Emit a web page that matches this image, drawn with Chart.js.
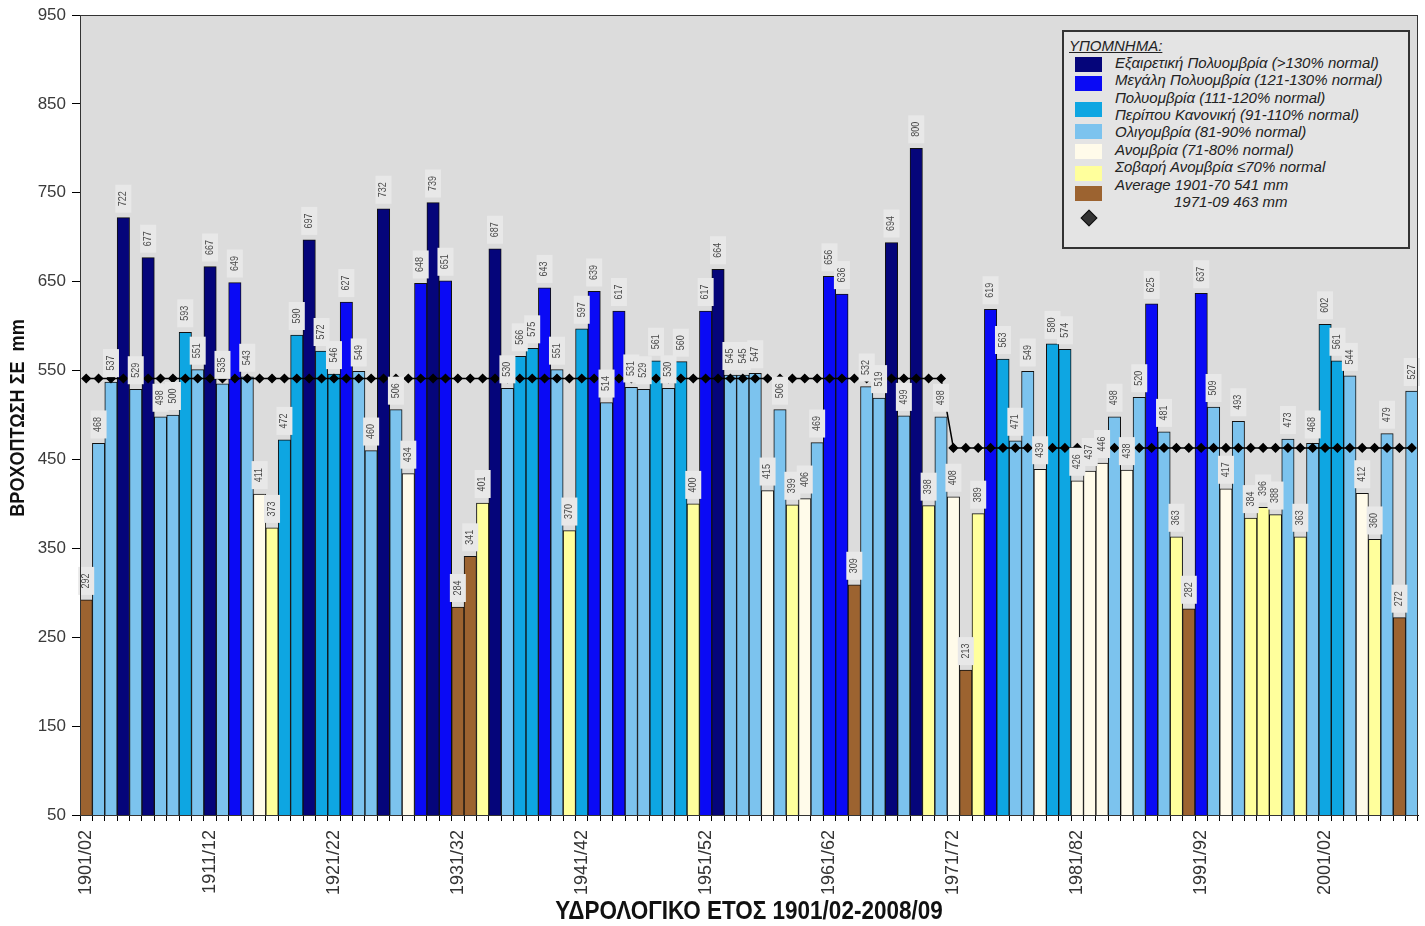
<!DOCTYPE html>
<html>
<head>
<meta charset="utf-8">
<script src="https://cdn.jsdelivr.net/npm/chart.js@4.4.0/dist/chart.umd.min.js"></script>
<style>
  body { margin: 0; background: #fff; }
  #wrap { position: relative; width: 1425px; height: 926px; }
  #legend { position: absolute; left: 1062px; top: 30px; width: 344px; height: 215px;
    border: 2px solid #333; background: #e4e4e4; font-family: "Liberation Sans", Arial, sans-serif;
    font-style: italic; font-size: 15px; color: #222; }
  #legend .t { position: absolute; white-space: nowrap; line-height: 17px; }
  #legend .sw { position: absolute; left: 11px; width: 27px; height: 15px; }
</style>
</head>
<body>
<div id="wrap">
  <canvas id="chart" width="1425" height="926"></canvas>
  <div id="legend"></div>
</div>
<script>
// hydrological years 1901/02 .. 2008/09
const years = [];
for (let y = 1901; y <= 2008; y++) years.push(y + '/' + String((y + 1) % 100).padStart(2, '0'));

const rainfall = [
  292, 468, 537, 722, 529, 677, 498, 500, 593, 551,
  667, 535, 649, 543, 411, 373, 472, 590, 697, 572,
  546, 627, 549, 460, 732, 506, 434, 648, 739, 651,
  284, 341, 401, 687, 530, 566, 575, 643, 551, 370,
  597, 639, 514, 617, 531, 529, 561, 530, 560, 400,
  617, 664, 545, 545, 547, 415, 506, 399, 406, 469,
  656, 636, 309, 532, 519, 694, 499, 800, 398, 498,
  408, 213, 389, 619, 563, 471, 549, 439, 580, 574,
  426, 437, 446, 498, 438, 520, 625, 481, 363, 282,
  637, 509, 417, 493, 384, 396, 388, 473, 363, 468,
  602, 561, 544, 412, 360, 479, 272, 527
];

// class of each year: N navy, B blue, C cyan, L light blue, W cream, Y yellow, R brown
const classes = [
  'R','L','L','N','L','N','L','L','C','L',
  'N','L','B','L','W','Y','C','C','N','C',
  'C','B','L','L','N','L','W','B','N','B',
  'R','R','Y','N','L','C','C','B','L','Y',
  'C','B','L','B','L','L','C','L','C','Y',
  'B','N','L','L','L','W','L','Y','W','L',
  'B','B','R','L','L','N','L','N','Y','L',
  'W','R','Y','B','C','L','L','W','C','C',
  'W','W','W','L','W','L','B','L','Y','R',
  'B','L','W','L','Y','Y','Y','L','Y','L',
  'C','C','L','W','Y','L','R','L'
];

const avgEarly = 541;   // 1901-70
const avgLate = 463;    // 1971-09
const earlyCount = 70;
const average = Array(earlyCount).fill(avgEarly).concat(Array(years.length - earlyCount).fill(avgLate));

const yTicks = [50, 150, 250, 350, 450, 550, 650, 750, 850, 950];

const palette = {
  N: '#05057a', B: '#0a0af5', C: '#0ea6e2', L: '#7cc3ee',
  W: '#fffbea', Y: '#ffff9c', R: '#9c6330'
};

const legendRows = [
  { text: 'Εξαιρετική Πολυομβρία (>130% normal)', top: 53, x: 51 },
  { text: 'Μεγάλη Πολυομβρία (121-130% normal)', top: 70, x: 51 },
  { text: 'Πολυομβρία (111-120% normal)', top: 88, x: 51 },
  { text: 'Περίπου Κανονική (91-110% normal)', top: 105, x: 51 },
  { text: 'Ολιγομβρία (81-90% normal)', top: 122, x: 51 },
  { text: 'Ανομβρία (71-80% normal)', top: 140, x: 51 },
  { text: 'Σοβαρή Ανομβρία ≤70% normal', top: 157, x: 51 },
  { text: 'Average 1901-70 541 mm', top: 175, x: 51 },
  { text: '1971-09 463 mm', top: 192, x: 110 }
];
const legendSwatches = [
  { c: 'N', top: 55 }, { c: 'B', top: 74 }, { c: 'C', top: 100 }, { c: 'L', top: 122 },
  { c: 'W', top: 142 }, { c: 'Y', top: 164 }, { c: 'R', top: 184 }
];

// legend as html
const lg = document.getElementById('legend');
let html = '<div class="t" style="left:5px;top:5px;text-decoration:underline;">ΥΠΟΜΝΗΜΑ:</div>';
legendRows.forEach(r => {
  html += `<div class="t" style="left:${r.x}px;top:${r.top - 31}px;">${r.text}</div>`;
});
legendSwatches.forEach(s => {
  html += `<div class="sw" style="top:${s.top - 30}px;background:${palette[s.c]};"></div>`;
});
html += '<div style="position:absolute;left:19px;top:180px;width:10px;height:10px;background:#333;border:1px solid #111;transform:rotate(45deg);"></div>';
lg.innerHTML = html;

const plotBg = {
  id: 'plotBg',
  beforeDatasetsDraw(chart) {
    const a = chart.chartArea, ctx = chart.ctx;
    ctx.save();
    ctx.fillStyle = '#dcdcdc';
    ctx.fillRect(a.left, a.top, a.right - a.left, a.bottom - a.top);
    ctx.restore();
  },
  afterDraw(chart) {
    const a = chart.chartArea, ctx = chart.ctx;
    ctx.save();
    ctx.strokeStyle = '#333';
    ctx.lineWidth = 1;
    ctx.strokeRect(a.left + 0.5, a.top + 0.5, a.right - a.left - 1, a.bottom - a.top);
    // condensed bold axis titles
    ctx.fillStyle = '#111';
    ctx.font = 'bold 25px "Liberation Sans", Arial, sans-serif';
    ctx.textAlign = 'center';
    ctx.textBaseline = 'middle';
    ctx.save();
    ctx.translate((a.left + a.right) / 2, 912);
    ctx.scale(0.9, 1);
    ctx.fillText('ΥΔΡΟΛΟΓΙΚΟ ΕΤΟΣ 1901/02-2008/09', 0, 0);
    ctx.restore();
    ctx.save();
    ctx.font = 'bold 21px "Liberation Sans", Arial, sans-serif';
    ctx.translate(18, 418);
    ctx.rotate(-Math.PI / 2);
    ctx.scale(0.86, 1);
    ctx.fillText('ΒΡΟΧΟΠΤΩΣΗ ΣΕ  mm', 0, 0);
    ctx.restore();
    ctx.restore();
  }
};

// rotated value labels in small boxes above the bars
const valueLabels = {
  id: 'valueLabels',
  afterDatasetsDraw(chart) {
    const ctx = chart.ctx;
    const meta = chart.getDatasetMeta(0);
    ctx.save();
    ctx.font = '10px "Liberation Sans", Arial, sans-serif';
    ctx.textAlign = 'center';
    ctx.textBaseline = 'middle';
    meta.data.forEach((bar, i) => {
      ctx.save();
      ctx.translate(bar.x, bar.y - 19);
      ctx.rotate(-Math.PI / 2);
      ctx.fillStyle = '#e8e8e8';
      ctx.fillRect(-14, -8, 28, 16);
      ctx.fillStyle = '#4a4a4a';
      ctx.scale(0.9, 1);
      ctx.fillText(String(rainfall[i]), 0, 0);
      ctx.restore();
    });
    ctx.restore();
  }
};

new Chart(document.getElementById('chart'), {
  data: {
    labels: years,
    datasets: [
      {
        type: 'bar',
        data: rainfall,
        backgroundColor: classes.map(c => palette[c]),
        borderColor: '#111',
        borderWidth: 1,
        categoryPercentage: 1,
        barPercentage: 1,
        order: 2
      },
      {
        type: 'line',
        data: average,
        borderColor: '#000',
        borderWidth: 1.5,
        pointStyle: 'rectRot',
        pointRadius: 4,
        pointBackgroundColor: '#000',
        pointBorderColor: '#000',
        order: 1
      }
    ]
  },
  options: {
    responsive: false,
    animation: false,
    layout: { padding: { top: 15, right: 7, left: 0, bottom: 0 } },
    plugins: { legend: { display: false }, tooltip: { enabled: false } },
    scales: {
      x: {
        offset: true,
        grid: { display: true, offset: true, drawOnChartArea: false, tickLength: 6, color: '#000' },
        border: { display: true, color: '#000', width: 1 },
        ticks: {
          autoSkip: false, maxRotation: 90, minRotation: 90, padding: 9,
          color: '#333',
          font: { family: '"Liberation Sans", Arial, sans-serif', size: 18 },
          callback: (v, i) => i % 10 === 0 ? years[i] : ''
        },
        afterFit: s => { s.height = 111; s.paddingLeft = 0; s.paddingRight = 0; }
      },
      y: {
        min: 50, max: 950,
        afterBuildTicks: s => { s.ticks = yTicks.map(v => ({ value: v })); },
        grid: { drawOnChartArea: false, tickLength: 8, color: '#000' },
        border: { display: true, color: '#000', width: 1 },
        ticks: {
          padding: 6, color: '#3a3a3a',
          font: { family: '"Liberation Sans", Arial, sans-serif', size: 17 }
        },
        afterFit: s => { s.width = 80; s.paddingTop = 0; s.paddingBottom = 0; }
      }
    }
  },
  plugins: [plotBg, valueLabels]
});
</script>
</body>
</html>
